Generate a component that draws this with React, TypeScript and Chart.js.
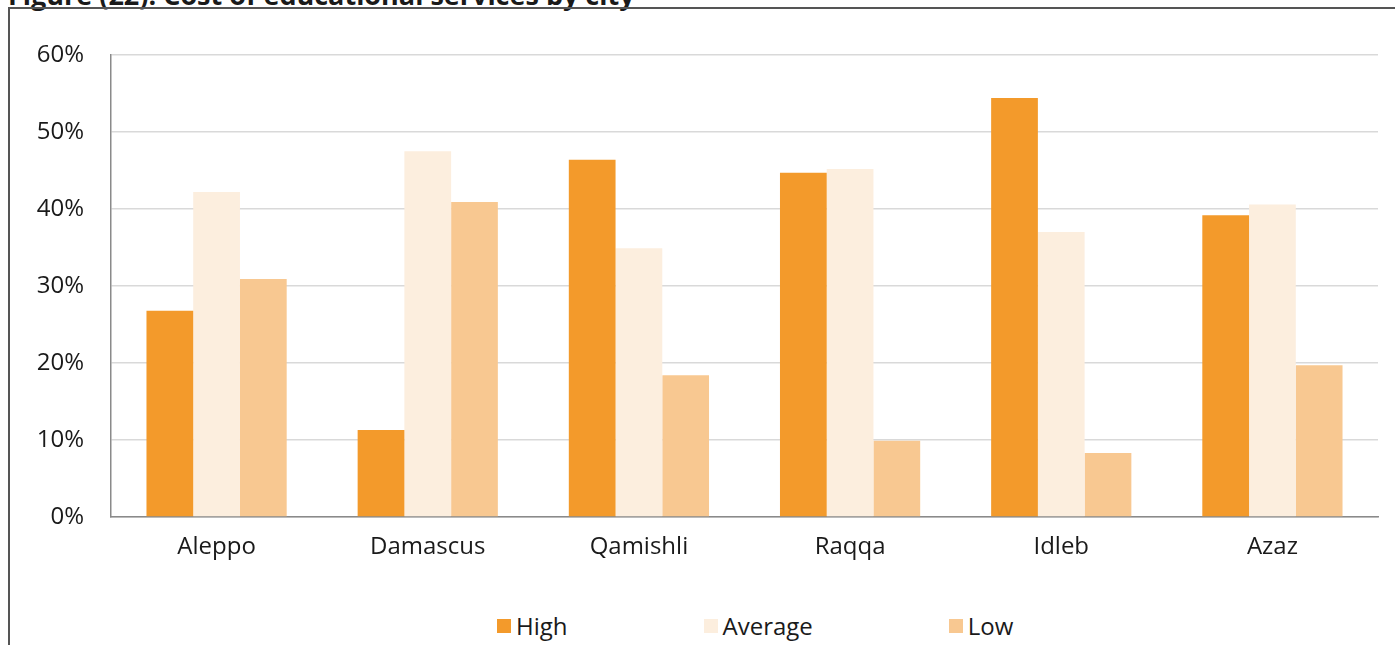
import React, { useEffect, useRef } from "react";
import { Chart, registerables } from "chart.js";

Chart.register(...registerables);

const title = "Figure (22): Cost of educational services by city";
const categories = ["Aleppo", "Damascus", "Qamishli", "Raqqa", "Idleb", "Azaz"];
const highValues = [26.8, 11.3, 46.4, 44.7, 54.4, 39.2];
const averageValues = [42.2, 47.5, 34.9, 45.2, 37.0, 40.6];
const lowValues = [30.9, 40.9, 18.4, 9.9, 8.3, 19.7];
const seriesNames = ["High", "Average", "Low"];
const seriesColors = ["#F39A2B", "#FCEEDE", "#F8C891"];
const yMin = 0;
const yMax = 60;
const yStep = 10;

const FONT = '"Open Sans", "Noto Sans", sans-serif';

export default function App() {
  const canvasRef = useRef<HTMLCanvasElement | null>(null);

  useEffect(() => {
    const canvas = canvasRef.current;
    if (!canvas) return;
    const seriesValues = [highValues, averageValues, lowValues];
    const chart = new Chart(canvas, {
      type: "bar",
      data: {
        labels: categories,
        datasets: seriesNames.map((name, i) => ({
          label: name,
          data: seriesValues[i],
          backgroundColor: seriesColors[i],
          borderWidth: 0,
          barPercentage: 1,
          categoryPercentage: 0.664,
        })),
      },
      options: {
        animation: false,
        responsive: true,
        maintainAspectRatio: false,
        layout: { padding: { top: 45, right: 17, bottom: 0, left: 0 } },
        plugins: {
          legend: { display: false },
          tooltip: { enabled: false },
          title: { display: false },
        },
        scales: {
          x: {
            grid: { display: false, drawTicks: false },
            border: { display: true, color: "#8a8a8a", width: 1.5 },
            ticks: {
              color: "#1a1a1a",
              font: { family: FONT, size: 24 },
              padding: 16,
            },
            afterFit: (scale: any) => {
              scale.height = 73;
            },
          },
          y: {
            min: yMin,
            max: yMax,
            ticks: {
              stepSize: yStep,
              color: "#1a1a1a",
              font: { family: FONT, size: 24 },
              padding: 27,
              callback: (v: any) => `${v}%`,
            },
            grid: { color: "#d9d9d9", lineWidth: 1.5, drawTicks: false },
            border: { display: true, color: "#8a8a8a", width: 1.5 },
            afterFit: (scale: any) => {
              scale.width = 101;
            },
          },
        },
      },
    });
    return () => chart.destroy();
  }, []);

  return (
    <div
      style={{
        position: "fixed",
        inset: 0,
        overflow: "hidden",
        background: "#ffffff",
        fontFamily: FONT,
      }}
    >
      <div
        style={{
          position: "absolute",
          left: 8,
          top: -24,
          fontSize: 27,
          lineHeight: "37px",
          fontWeight: 700,
          whiteSpace: "nowrap",
          color: "#1a1a1a",
        }}
      >
        {title}
      </div>
      <div
        style={{
          position: "absolute",
          left: 8,
          top: 7,
          width: 1400,
          height: 700,
          borderLeft: "2px solid #555",
          borderTop: "2px solid #555",
        }}
      />
      <div style={{ position: "absolute", left: 10, top: 10, width: 1385, height: 580 }}>
        <canvas ref={canvasRef} />
      </div>
      <div
        style={{
          position: "absolute",
          left: 497,
          top: 611,
          display: "flex",
          gap: 136,
          alignItems: "center",
          fontSize: 24,
          lineHeight: "30px",
          color: "#1a1a1a",
          whiteSpace: "nowrap",
        }}
      >
        {seriesNames.map((name, i) => (
          <div key={name} style={{ display: "flex", alignItems: "center" }}>
            <span
              style={{
                display: "inline-block",
                width: 14,
                height: 14,
                background: seriesColors[i],
                marginRight: 5,
              }}
            />
            <span>{name}</span>
          </div>
        ))}
      </div>
    </div>
  );
}
